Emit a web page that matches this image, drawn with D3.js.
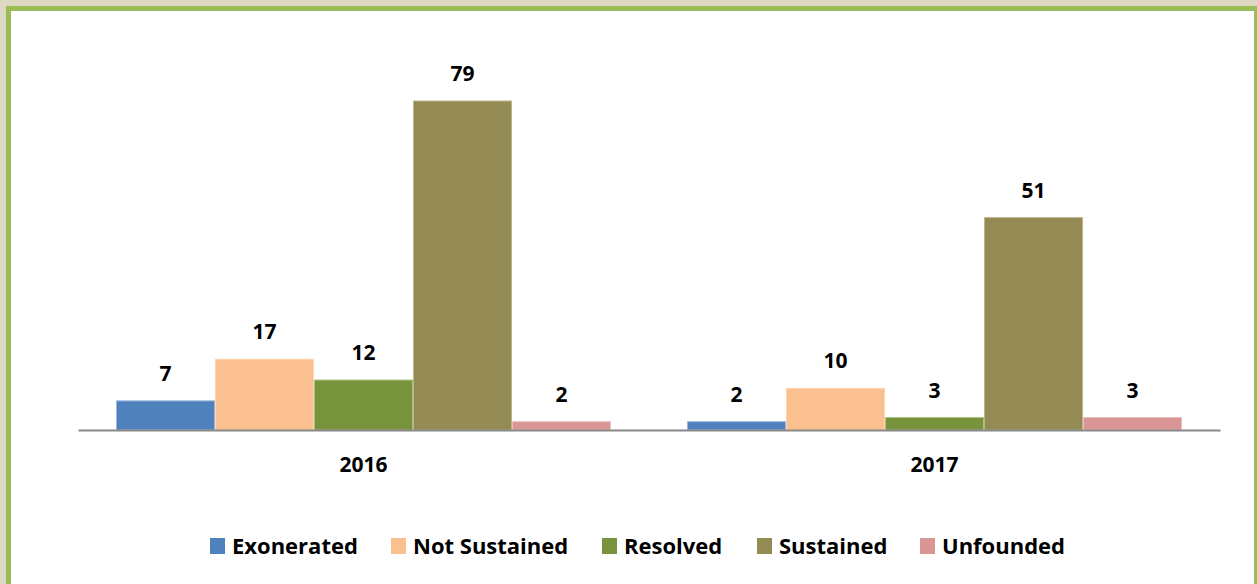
<!DOCTYPE html>
<html><head><meta charset="utf-8">
<script src="https://cdn.jsdelivr.net/npm/d3@7"></script>
<style>body{margin:0;background:#fff}svg{display:block}</style>
</head><body>
<svg id="c" width="1257" height="584"></svg>
<script>
const categories = ["2016", "2017"];
const seriesNames = ["Exonerated", "Not Sustained", "Resolved", "Sustained", "Unfounded"];
const exonerated = [7, 2];
const notSustained = [17, 10];
const resolved = [12, 3];
const sustained = [79, 51];
const unfounded = [2, 3];
const colors = ["#4F81BD", "#FAC090", "#77933C", "#948A54", "#D99694"];
const strokes = ["#9DB6DC", "#FCD5B3", "#A9C27C", "#BDB58F", "#EBC0BF"];

const values = [exonerated, notSustained, resolved, sustained, unfounded];
const svg = d3.select("#c");
const font = "'Open Sans', 'Liberation Sans', sans-serif";

// frame
svg.append("rect").attr("x",0).attr("y",0).attr("width",1257).attr("height",584).attr("fill","#DDD8C2");
svg.append("rect").attr("x",6).attr("y",6).attr("width",1251).attr("height",578).attr("fill","#9BBB59");
svg.append("rect").attr("x",11).attr("y",11).attr("width",1243).attr("height",573).attr("fill","#fff");

const x0 = d3.scaleBand().domain(categories).range([78, 1220]).paddingInner(0).paddingOuter(0);
const x1 = d3.scaleBand().domain(seriesNames).range([38, x0.bandwidth() - 38]);
const y = d3.scaleLinear().domain([0, 79]).range([430, 101]);

const g = svg.append("g");
categories.forEach((cat, ci) => {
  seriesNames.forEach((s, si) => {
    const v = values[si][ci];
    const bx = x0(cat) + x1(s);
    g.append("rect").attr("x", bx + 0.5).attr("y", y(v)).attr("width", x1.bandwidth() - 1)
      .attr("height", y(0) - y(v)).attr("fill", colors[si]).attr("stroke", strokes[si]).attr("stroke-width", 1);
    g.append("text").attr("x", bx + x1.bandwidth()/2).attr("y", y(v) - 20)
      .attr("text-anchor","middle").attr("font-family", font).attr("font-weight","bold")
      .attr("font-size", 21).attr("fill","#000").text(v);
  });
});

// axis
const axis = d3.axisBottom(x0).tickSize(0).tickPadding(27);
const ag = svg.append("g").attr("transform","translate(0,430)").call(axis);
ag.select(".domain").attr("stroke","#888").attr("stroke-width",2);
ag.selectAll("text").attr("font-family", font).attr("font-weight","bold").attr("font-size",21).attr("fill","#000");

// legend
const legendX = [210, 391, 602, 757, 920];
const lg = svg.append("g");
seriesNames.forEach((s, i) => {
  lg.append("rect").attr("x", legendX[i]).attr("y", 538).attr("width", 15).attr("height", 16).attr("fill", colors[i]);
  lg.append("text").attr("x", legendX[i] + 22).attr("y", 554).attr("font-family", font).attr("font-weight","bold")
    .attr("font-size", 22).attr("fill","#000").text(s);
});
</script>
</body></html>
